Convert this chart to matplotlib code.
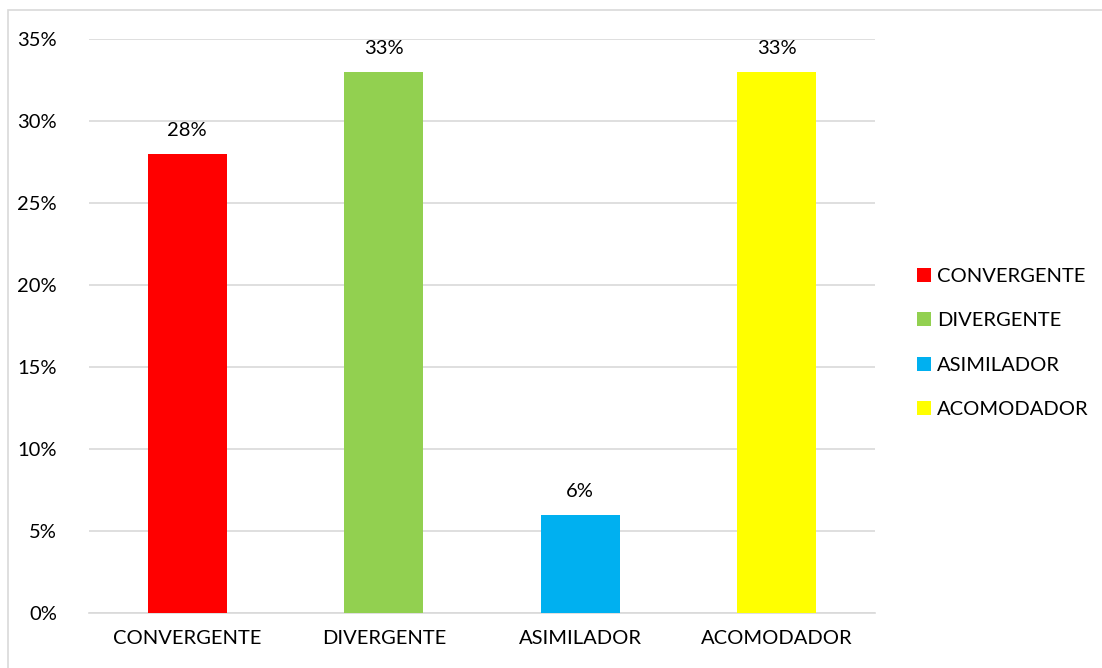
import matplotlib
matplotlib.use("Agg")
import matplotlib.pyplot as plt
from matplotlib.patches import Patch, Rectangle
from matplotlib.ticker import FuncFormatter, MultipleLocator

categories = ["CONVERGENTE", "DIVERGENTE", "ASIMILADOR", "ACOMODADOR"]
values = [0.28, 0.33, 0.06, 0.33]
colors = ["#FF0000", "#92D050", "#00B0F0", "#FFFF00"]
value_labels = ["28%", "33%", "6%", "33%"]

plt.rcParams['font.family'] = ['Lato', 'DejaVu Sans']
FS = 14.5
W, H = 1102, 668
fig = plt.figure(figsize=(W / 100, H / 100), dpi=100)
ax = fig.add_axes([89 / W, 1 - 613 / H, (875 - 89) / W, (613 - 39) / H])

x = range(len(categories))
ax.bar(x, values, width=0.40, color=colors, zorder=3)
for xi, v, lab in zip(x, values, value_labels):
    ax.text(xi, v + 0.009, lab, ha="center", va="bottom", fontsize=FS, color="#000000")

ax.set_xlim(-0.5, len(categories) - 0.5)
ax.set_ylim(0, 0.35)
ax.yaxis.set_major_locator(MultipleLocator(0.05))
ax.yaxis.set_major_formatter(FuncFormatter(lambda v, p: f"{round(v * 100)}%"))
ax.set_xticks(list(x))
ax.set_xticklabels(categories)
ax.tick_params(axis="both", length=0, labelsize=FS, colors="#000000")
ax.tick_params(axis="y", pad=23)
ax.tick_params(axis="x", pad=12)
ax.grid(axis="y", color="#D9D9D9", linewidth=1.2, zorder=0)
for s in ["top", "right", "left"]:
    ax.spines[s].set_visible(False)
ax.spines["bottom"].set_color("#D9D9D9")
ax.spines["bottom"].set_linewidth(1.2)

handles = [Patch(facecolor=c, edgecolor="none") for c in colors]
fig.legend(handles, categories, loc="center left", bbox_to_anchor=(899 / W, 1 - 343 / H),
           frameon=False, fontsize=FS, handlelength=0.7, handleheight=0.7,
           handletextpad=0.3, labelspacing=1.35)

# chart-area border: only top and left edges fall inside the image
fig.patches.append(Rectangle((8 / W, -0.05), 1.1, (658 / H) + 0.05,
                             transform=fig.transFigure, fill=False,
                             edgecolor="#D9D9D9", linewidth=1.2, clip_on=False))
fig.savefig("out.png", dpi=100, facecolor="white")
